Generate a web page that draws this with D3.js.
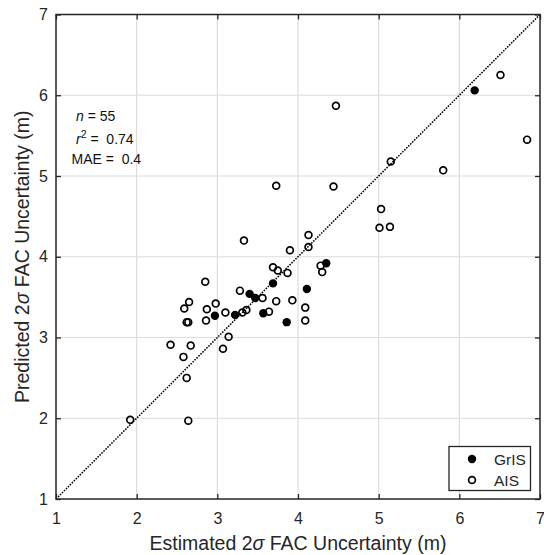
<!DOCTYPE html>
<html>
<head>
<meta charset="utf-8">
<script src="https://cdn.jsdelivr.net/npm/d3@7/dist/d3.min.js"></script>
<style>
  html, body { margin: 0; padding: 0; background: #fff; }
  svg { display: block; font-family: Arial, "Liberation Sans", Helvetica, sans-serif; }
  text { white-space: pre; }
</style>
</head>
<body>
<svg id="chart" width="544" height="555"></svg>
<script>
// Greenland (GrIS) sites: estimated vs predicted 2σ FAC uncertainty (m)
const grisEstimated = [6.19, 3.40, 3.47, 2.97, 3.22, 3.57, 3.69, 4.35, 4.11, 3.86];
const grisPredicted = [6.06, 3.54, 3.49, 3.27, 3.28, 3.30, 3.67, 3.92, 3.60, 3.19];

// Antarctic (AIS) sites
const aisEstimated = [
  4.47, 6.51, 6.84, 5.15, 5.80, 3.73, 4.44, 5.03, 5.01, 5.14,
  3.33, 2.85, 3.28, 2.65, 2.59, 2.98, 2.87, 3.10, 3.31, 3.36,
  2.62, 2.64, 2.86, 3.14, 3.07, 2.42, 2.67, 2.58, 2.62, 1.92,
  2.64, 3.56, 3.64, 3.69, 4.13, 4.13, 3.90, 3.75, 3.87, 4.28,
  4.30, 3.73, 3.93, 4.09, 4.09
];
const aisPredicted = [
  5.87, 6.25, 5.45, 5.18, 5.07, 4.88, 4.87, 4.59, 4.36, 4.37,
  4.20, 3.69, 3.58, 3.44, 3.36, 3.42, 3.35, 3.31, 3.31, 3.34,
  3.19, 3.19, 3.21, 3.01, 2.86, 2.91, 2.90, 2.76, 2.50, 1.98,
  1.97, 3.49, 3.32, 3.87, 4.27, 4.12, 4.08, 3.83, 3.80, 3.89,
  3.81, 3.45, 3.46, 3.37, 3.21
];

const tickValues = [1, 2, 3, 4, 5, 6, 7];
const statsLines = [
  { label: "n", sup: "", text: " = 55" },
  { label: "r", sup: "2", text: " =  0.74" },
  { label: "MAE", sup: "", text: " =  0.4" }
];
const legendItems = [
  { name: "GrIS", filled: true },
  { name: "AIS", filled: false }
];

const svg = d3.select("#chart");
const margin = { left: 56, top: 14.5 };
const plotW = 484, plotH = 484.5;
const axisColor = "#262626";

const x = d3.scaleLinear().domain([1, 7]).range([margin.left, margin.left + plotW]);
const y = d3.scaleLinear().domain([1, 7]).range([margin.top + plotH, margin.top]);

// grid
const grid = svg.append("g");
grid.selectAll("line.gx").data(tickValues.slice(1, -1)).join("line")
  .attr("x1", d => x(d)).attr("x2", d => x(d))
  .attr("y1", y(1)).attr("y2", y(7))
  .attr("stroke", "#dcdcdc").attr("stroke-width", 1.2);
grid.selectAll("line.gy").data(tickValues.slice(1, -1)).join("line")
  .attr("y1", d => y(d)).attr("y2", d => y(d))
  .attr("x1", x(1)).attr("x2", x(7))
  .attr("stroke", "#dcdcdc").attr("stroke-width", 1.2);

// 1:1 reference line
svg.append("line")
  .attr("x1", x(1)).attr("y1", y(1)).attr("x2", x(7)).attr("y2", y(7))
  .attr("stroke", "#000").attr("stroke-width", 1.5)
  .attr("stroke-dasharray", "1.6,1.2");

// axes with inward ticks on all sides
const tickLen = 5;
function styleAxis(g) {
  g.select(".domain").remove();
  g.selectAll(".tick line").attr("stroke", axisColor).attr("stroke-width", 1.3);
  g.selectAll(".tick text").attr("fill", axisColor).attr("font-size", 16);
}
const xAxis = svg.append("g").attr("transform", `translate(0,${y(1)})`)
  .call(d3.axisBottom(x).tickValues(tickValues).tickFormat(d3.format("d"))
    .tickSizeInner(-tickLen).tickSizeOuter(0).tickPadding(14));
styleAxis(xAxis);
const yAxis = svg.append("g").attr("transform", `translate(${x(1)},0)`)
  .call(d3.axisLeft(y).tickValues(tickValues).tickFormat(d3.format("d"))
    .tickSizeInner(-tickLen).tickSizeOuter(0).tickPadding(8));
styleAxis(yAxis);
const xTop = svg.append("g").attr("transform", `translate(0,${y(7)})`)
  .call(d3.axisTop(x).tickValues(tickValues).tickFormat("").tickSizeInner(-tickLen).tickSizeOuter(0));
styleAxis(xTop);
const yRight = svg.append("g").attr("transform", `translate(${x(7)},0)`)
  .call(d3.axisRight(y).tickValues(tickValues).tickFormat("").tickSizeInner(-tickLen).tickSizeOuter(0));
styleAxis(yRight);

// frame
svg.append("rect")
  .attr("x", x(1)).attr("y", y(7)).attr("width", x(7) - x(1)).attr("height", y(1) - y(7))
  .attr("fill", "none").attr("stroke", axisColor).attr("stroke-width", 1.5);

// points
const ais = aisEstimated.map((v, i) => ({ est: v, pred: aisPredicted[i] }));
const gris = grisEstimated.map((v, i) => ({ est: v, pred: grisPredicted[i] }));

svg.append("g").selectAll("circle").data(ais).join("circle")
  .attr("cx", d => x(d.est)).attr("cy", d => y(d.pred)).attr("r", 3.4)
  .attr("fill", "none").attr("stroke", "#000").attr("stroke-width", 1.7);
svg.append("g").selectAll("circle").data(gris).join("circle")
  .attr("cx", d => x(d.est)).attr("cy", d => y(d.pred)).attr("r", 4.2)
  .attr("fill", "#000");

// statistics annotation
const stats = svg.append("g").attr("font-size", 14).attr("fill", "#111");
const statsX = [76, 76, 71.5];
const statsY = [121, 144, 164];
statsLines.forEach((s, i) => {
  const t = stats.append("text").attr("x", statsX[i]).attr("y", statsY[i]);
  if (s.label === "MAE") {
    t.append("tspan").text(s.label);
  } else {
    t.append("tspan").attr("font-style", "italic").text(s.label);
  }
  if (s.sup) {
    t.append("tspan").attr("dy", -6).attr("font-size", 10.5).text(s.sup);
    t.append("tspan").attr("dy", 6).text(s.text);
  } else {
    t.append("tspan").text(s.text);
  }
});

// axis titles
const xTitle = svg.append("text")
  .attr("x", x(4)).attr("y", 550).attr("text-anchor", "middle")
  .attr("font-size", 19.5).attr("fill", axisColor);
xTitle.append("tspan").text("Estimated 2");
xTitle.append("tspan").attr("font-style", "italic").text("σ");
xTitle.append("tspan").text(" FAC Uncertainty (m)");

const yTitle = svg.append("text")
  .attr("transform", `translate(29,${y(4)}) rotate(-90)`)
  .attr("text-anchor", "middle").attr("font-size", 19.5).attr("fill", axisColor);
yTitle.append("tspan").text("Predicted 2");
yTitle.append("tspan").attr("font-style", "italic").text("σ");
yTitle.append("tspan").text(" FAC Uncertainty (m)");

// legend
const legend = svg.append("g");
legend.append("rect")
  .attr("x", 449).attr("y", 446.5).attr("width", 81.5).attr("height", 44)
  .attr("fill", "#fff").attr("stroke", axisColor).attr("stroke-width", 1.3);
legendItems.forEach((item, i) => {
  const cy = 459 + i * 21;
  legend.append("circle").attr("cx", 472).attr("cy", cy)
    .attr("r", item.filled ? 4.2 : 3.4)
    .attr("fill", item.filled ? "#000" : "none")
    .attr("stroke", item.filled ? "none" : "#000").attr("stroke-width", 1.7);
  legend.append("text").attr("x", 494).attr("y", cy + 5.5)
    .attr("font-size", 15.5).attr("fill", axisColor).text(item.name);
});
</script>
</body>
</html>
